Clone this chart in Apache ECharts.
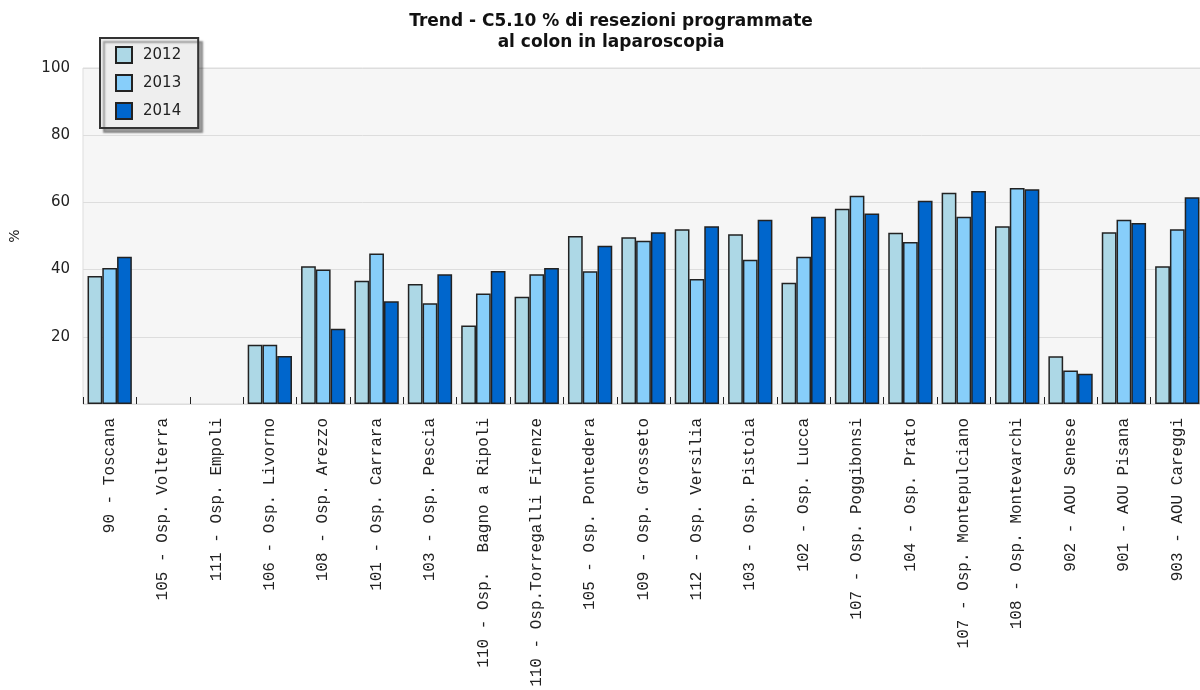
<!DOCTYPE html>
<html>
<head>
<meta charset="utf-8">
<script src="https://cdn.jsdelivr.net/npm/echarts@6/dist/echarts.min.js"></script>
<style>html,body{margin:0;padding:0;background:#fff}#c{width:1200px;height:690px}</style>
</head>
<body>
<div id="c"></div>
<script>
var categories = [
  "90 - Toscana",
  "105 - Osp. Volterra",
  "111 - Osp. Empoli",
  "106 - Osp. Livorno",
  "108 - Osp. Arezzo",
  "101 - Osp. Carrara",
  "103 - Osp. Pescia",
  "110 - Osp.  Bagno a Ripoli",
  "110 - Osp.Torregalli Firenze",
  "105 - Osp. Pontedera",
  "109 - Osp. Grosseto",
  "112 - Osp. Versilia",
  "103 - Osp. Pistoia",
  "102 - Osp. Lucca",
  "107 - Osp. Poggibonsi",
  "104 - Osp. Prato",
  "107 - Osp. Montepulciano",
  "108 - Osp. Montevarchi",
  "902 - AOU Senese",
  "901 - AOU Pisana",
  "903 - AOU Careggi"
];
var seriesNames = ["2012", "2013", "2014"];
var values2012 = [38.1, null, null, 17.6, 41.0, 36.7, 35.7, 23.4, 31.9, 50.0, 49.6, 52.0, 50.5, 36.1, 58.1, 51.0, 62.9, 52.9, 14.2, 51.1, 41.0];
var values2013 = [40.5, null, null, 17.6, 40.0, 44.8, 30.0, 32.9, 38.6, 39.5, 48.6, 37.2, 42.9, 43.8, 62.0, 48.2, 55.7, 64.3, 10.0, 54.8, 52.0];
var values2014 = [43.8, null, null, 14.3, 22.4, 30.6, 38.6, 39.6, 40.5, 47.1, 51.1, 52.9, 54.8, 55.7, 56.7, 60.5, 63.4, 63.9, 9.0, 53.9, 61.5];
var yTicks = [0, 20, 40, 60, 80, 100];
var titleText = "Trend - C5.10 % di resezioni programmate\nal colon in laparoscopia";
var yName = "%";

var colors = ["#add8e6", "#87cefa", "#0066cc"];
var data = [values2012, values2013, values2014];

var chart = echarts.init(document.getElementById('c'), null, {renderer: 'canvas'});
var series = seriesNames.map(function (n, i) {
  return {
    name: n,
    type: 'bar',
    data: data[i],
    barGap: '0%',
    barCategoryGap: '17%',
    itemStyle: {color: colors[i], borderColor: '#222222', borderWidth: 1.5},
    emphasis: {disabled: true}
  };
});
chart.setOption({
  animation: false,
  title: {
    text: titleText,
    left: 606,
    top: 6,
    textAlign: 'center',
    textStyle: {fontFamily: 'DejaVu Sans', fontSize: 17, fontWeight: 'bold', color: '#111', lineHeight: 21}
  },
  legend: {
    data: seriesNames,
    orient: 'vertical',
    left: 100,
    top: 38,
    icon: 'rect',
    itemWidth: 16,
    itemHeight: 16,
    itemGap: 10,
    padding: [8, 17, 8, 15],
    backgroundColor: '#eeeeee',
    borderColor: '#333333',
    borderWidth: 2,
    shadowColor: 'rgba(0,0,0,0.35)',
    shadowBlur: 2,
    shadowOffsetX: 4,
    shadowOffsetY: 4,
    textStyle: {fontFamily: 'DejaVu Sans', fontSize: 15, color: '#222', padding: [0, 0, 0, 6]},
    selectedMode: false
  },
  grid: {
    left: 83,
    right: -4,
    top: 68,
    bottom: 286,
    show: true,
    backgroundColor: '#f6f6f6',
    borderColor: '#dddddd',
    borderWidth: 1,
    containLabel: false,
    outerBoundsMode: 'none'
  },
  xAxis: {
    type: 'category',
    data: categories,
    axisLine: {show: false},
    axisTick: {show: true, inside: true, length: 7, lineStyle: {color: '#222', width: 1}},
    axisLabel: {
      rotate: 90,
      interval: 0,
      margin: 14,
      fontFamily: 'Liberation Mono',
      fontSize: 16,
      color: '#222'
    },
    splitLine: {show: false}
  },
  yAxis: {
    type: 'value',
    min: yTicks[0],
    max: yTicks[yTicks.length - 1],
    interval: 20,
    name: yName,
    nameLocation: 'middle',
    nameRotate: 90,
    nameGap: 61,
    nameTextStyle: {fontFamily: 'DejaVu Sans', fontSize: 14, color: '#222'},
    axisLine: {show: false},
    axisTick: {show: false},
    axisLabel: {
      margin: 13,
      fontFamily: 'DejaVu Sans',
      fontSize: 15,
      color: '#222',
      formatter: function (v) { return v === 0 ? '' : String(v); }
    },
    splitLine: {show: true, lineStyle: {color: '#dddddd', width: 1}}
  },
  series: series
});
</script>
</body>
</html>
